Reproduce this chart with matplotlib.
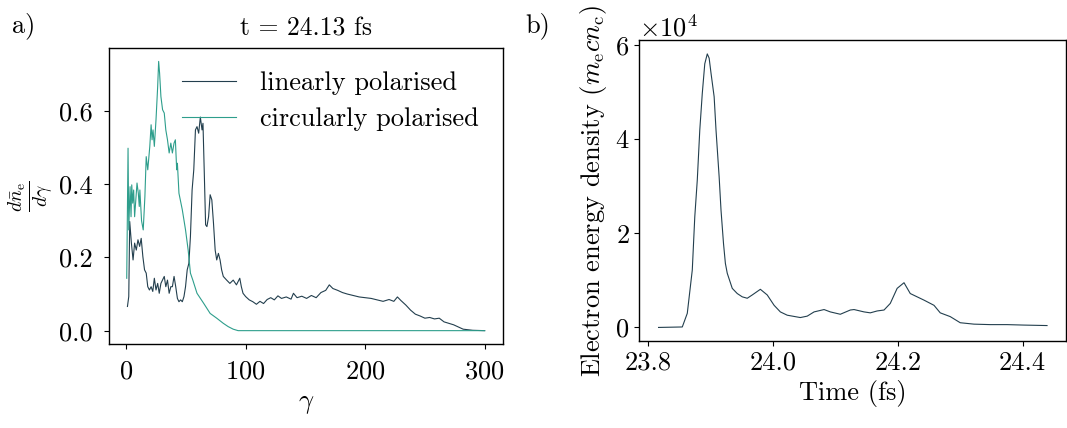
import matplotlib
matplotlib.use("Agg")
import matplotlib.pyplot as plt

# panel a) spectrum at t = 24.13 fs
gamma_lin = [1.1, 2.2, 3.0, 4.4, 5.8, 7.1, 8.5, 9.9, 11.3, 12.6, 14.0, 15.4, 16.8, 18.1,
             19.5, 20.9, 22.3, 23.6, 25.0, 26.4, 27.7, 29.1, 31.9, 33.2, 34.6, 36.0, 37.4,
             38.7, 40.1, 41.5, 42.9, 44.2, 45.6, 47.0, 48.4, 49.7, 51.1, 52.5, 53.8, 55.2,
             56.6, 58.0, 59.3, 60.7, 62.1, 63.5, 64.3, 65.4, 66.5, 67.6, 69.0, 70.3, 71.7,
             73.1, 74.5, 75.8, 77.2, 78.6, 79.9, 81.3, 84.1, 86.8, 89.6, 92.3, 95.1, 96.4,
             97.8, 100, 103, 106, 109, 112, 115, 118, 121, 124, 127, 130, 134, 138, 140,
             143, 147, 151, 155, 159, 163, 167, 170, 173, 177, 181, 185, 190, 195, 200,
             205, 210, 215, 220, 224, 227, 230, 234, 238, 242, 246, 250, 254, 258, 262,
             266, 270, 274, 278, 282, 290, 300]
dn_lin = [0.066, 0.093, 0.298, 0.239, 0.193, 0.239, 0.220, 0.248, 0.230, 0.252, 0.202,
          0.166, 0.157, 0.120, 0.111, 0.120, 0.107, 0.143, 0.111, 0.129, 0.102, 0.129,
          0.148, 0.120, 0.138, 0.102, 0.120, 0.120, 0.148, 0.120, 0.088, 0.079, 0.084,
          0.079, 0.093, 0.120, 0.166, 0.184, 0.257, 0.384, 0.439, 0.548, 0.557, 0.539,
          0.583, 0.548, 0.566, 0.430, 0.289, 0.284, 0.311, 0.371, 0.357, 0.293, 0.220,
          0.193, 0.211, 0.193, 0.166, 0.148, 0.138, 0.129, 0.138, 0.125, 0.143, 0.120,
          0.102, 0.093, 0.084, 0.079, 0.072, 0.080, 0.074, 0.085, 0.090, 0.084, 0.095,
          0.088, 0.092, 0.086, 0.102, 0.090, 0.094, 0.088, 0.096, 0.090, 0.104, 0.110,
          0.125, 0.115, 0.110, 0.104, 0.100, 0.096, 0.092, 0.090, 0.088, 0.084, 0.080,
          0.085, 0.080, 0.092, 0.082, 0.070, 0.056, 0.045, 0.040, 0.034, 0.036, 0.032,
          0.034, 0.024, 0.020, 0.016, 0.010, 0.004, 0.001, 0.0]

gamma_circ = [0.5, 1.6, 2.2, 3.3, 4.1, 4.7, 5.5, 6.3, 7.1, 9.1, 10.2, 11.0, 11.5, 12.9,
              14.3, 15.7, 16.8, 18.1, 19.8, 20.9, 21.7, 22.5, 23.6, 25.0, 26.4, 27.2,
              28.0, 29.1, 30.5, 31.9, 33.2, 34.6, 36.0, 37.4, 38.7, 40.1, 41.2, 42.3,
              42.9, 44.2, 47.0, 49.7, 51.9, 53.8, 55.8, 59.3, 64.8, 70.3, 75.8, 81.3,
              85.4, 89.6, 93.7, 150, 200, 250, 300]
dn_circ = [0.143, 0.498, 0.275, 0.393, 0.311, 0.398, 0.348, 0.384, 0.311, 0.403, 0.375,
           0.339, 0.384, 0.300, 0.275, 0.366, 0.475, 0.439, 0.503, 0.562, 0.521, 0.548,
           0.503, 0.576, 0.667, 0.735, 0.703, 0.639, 0.603, 0.594, 0.548, 0.521, 0.485,
           0.512, 0.485, 0.512, 0.521, 0.439, 0.457, 0.375, 0.330, 0.275, 0.220, 0.157,
           0.138, 0.102, 0.075, 0.047, 0.034, 0.020, 0.011, 0.004, 0.0, 0.0, 0.0, 0.0, 0.0]

# panel b) electron energy density vs time
t_fs = [23.817, 23.855, 23.863, 23.871, 23.875, 23.879, 23.883, 23.887, 23.891, 23.895,
        23.898, 23.901, 23.906, 23.909, 23.914, 23.917, 23.921, 23.924, 23.927, 23.935,
        23.943, 23.951, 23.959, 23.967, 23.980, 23.991, 24.002, 24.012, 24.023, 24.044,
        24.055, 24.066, 24.082, 24.092, 24.108, 24.124, 24.130, 24.146, 24.156, 24.167,
        24.178, 24.188, 24.199, 24.210, 24.220, 24.242, 24.258, 24.268, 24.284, 24.300,
        24.322, 24.348, 24.375, 24.402, 24.439]
energy = [0, 100, 3000, 12200, 23500, 31300, 41900, 49700, 56000, 58100, 57200, 54000,
          49000, 41900, 32000, 24900, 17800, 13600, 11500, 8300, 7200, 6500, 6200, 6900,
          8100, 6900, 4700, 3300, 2600, 2100, 2400, 3300, 3800, 3300, 2800, 3700, 3800,
          3300, 3100, 3500, 3700, 5100, 8300, 9500, 7200, 5800, 4700, 3100, 2300, 1000,
          700, 600, 600, 500, 400]

lin_color = "#233f4e"
circ_color = "#2e9e8c"

plt.rcParams["font.family"] = "serif"
plt.rcParams["font.serif"] = ["cmr10"]
plt.rcParams["mathtext.fontset"] = "cm"
plt.rcParams["axes.formatter.use_mathtext"] = True
plt.rcParams["font.size"] = 19
plt.rcParams["axes.linewidth"] = 1.0
plt.rcParams["xtick.major.size"] = 3.5
plt.rcParams["ytick.major.size"] = 3.5

fig = plt.figure(figsize=(10.67, 4.28), dpi=100)

ax1 = fig.add_axes([0.102, 0.196, 0.369, 0.692])
ax1.plot(gamma_lin, dn_lin, color=lin_color, lw=0.8, label="linearly polarised")
ax1.plot(gamma_circ, dn_circ, color=circ_color, lw=0.8, label="circularly polarised")
ax1.set_xticks([0, 100, 200, 300])
ax1.set_yticks([0.0, 0.2, 0.4, 0.6])
ax1.set_yticklabels(["0.0", "0.2", "0.4", "0.6"])
ax1.tick_params(axis="both", pad=8)
ax1.set_xlabel(r"$\gamma$", labelpad=6)
ax1.set_ylabel(r"$\frac{d\bar{n}_\mathrm{e}}{d\gamma}$", fontsize=20, labelpad=2)
ax1.set_title("t = 24.13 fs", fontsize=18.5, pad=9)
ax1.legend(loc="upper right", frameon=False, handlelength=2.05, handletextpad=0.9,
           labelspacing=0.45, fontsize=19, bbox_to_anchor=(1.0, 1.0))

ax2 = fig.add_axes([0.599, 0.203, 0.4005, 0.703])
ax2.plot(t_fs, energy, color=lin_color, lw=0.8)
ax2.set_xticks([23.8, 24.0, 24.2, 24.4])
ax2.set_xticklabels(["23.8", "24.0", "24.2", "24.4"])
ax2.ticklabel_format(axis="y", style="sci", scilimits=(0, 0))
ax2.set_xlabel("Time (fs)")
ax2.set_ylabel(r"Electron energy density ($m_\mathrm{e}cn_\mathrm{c}$)")

fig.text(0.011, 0.925, "a)")
fig.text(0.492, 0.925, "b)")

fig.savefig("out.png", dpi=100)
